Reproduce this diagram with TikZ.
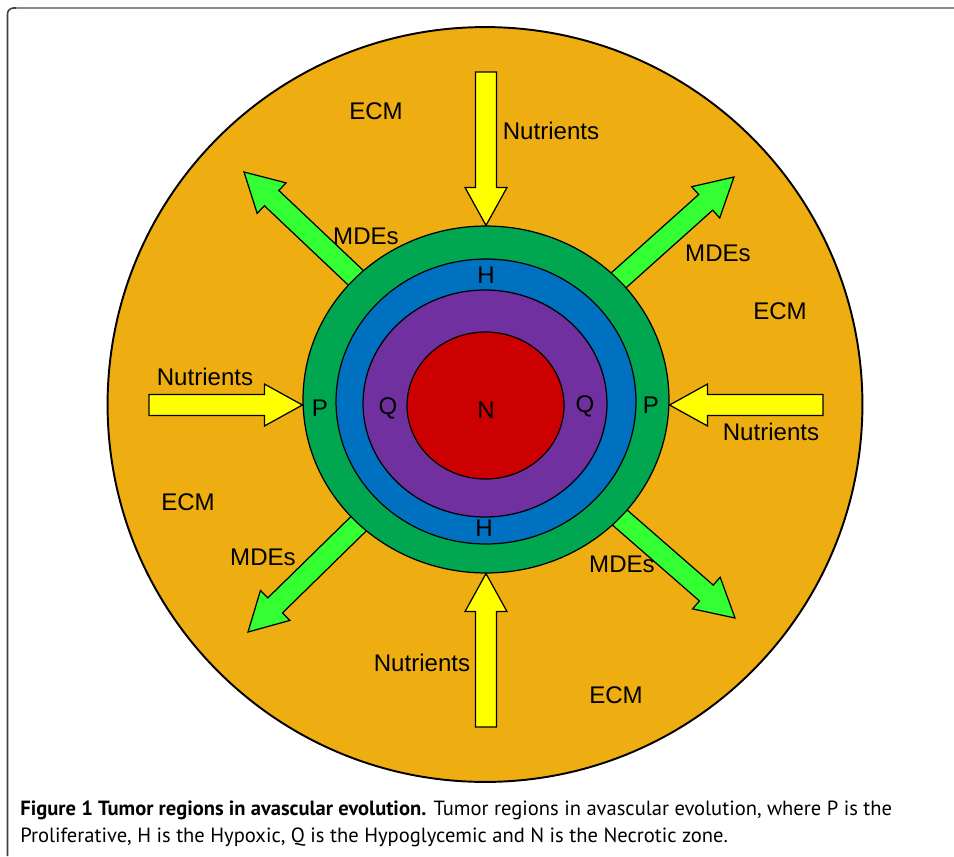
\documentclass[tikz,border=0pt]{standalone}
\usepackage{fontspec}
\setmainfont{Liberation Sans}
\newfontfamily\capfont{PT Sans}
\usetikzlibrary{shapes.geometric, calc, positioning}
\definecolor{ecmorange}{RGB}{238, 174, 17}
\definecolor{prolifgreen}{RGB}{0, 166, 80}
\definecolor{hypoxblue}{RGB}{0, 112, 192}
\definecolor{quiespurple}{RGB}{112, 48, 160}
\definecolor{necred}{RGB}{204, 0, 0}
\definecolor{mdegreen}{RGB}{51, 255, 51}
\definecolor{nutyellow}{RGB}{255, 255, 0}

% block arrow: #1 fill, #2 tail, #3 tip
\newcommand{\fatarrow}[3]{%
    \coordinate (hb) at ($(#3)!0.76cm!(#2)$);
    \filldraw[fill=#1, draw=black, line width=0.7pt, line join=miter]
        ($(#2)!0.21cm!90:(#3)$) -- ($(hb)!0.21cm!90:(#3)$) -- ($(hb)!0.42cm!90:(#3)$) -- (#3)
        -- ($(hb)!0.42cm!-90:(#3)$) -- ($(hb)!0.21cm!-90:(#3)$) -- ($(#2)!0.21cm!-90:(#3)$) -- cycle;
}

\begin{document}
\begin{tikzpicture}[x=0.02cm, y=-0.02cm,
        zone/.style={ellipse, draw, line width=0.7pt, inner sep=0pt},
        lbl/.style={font=\fontsize{13.7}{16}\selectfont, inner sep=0pt},
        caption/.style={font=\capfont\fontsize{11.7}{14}\selectfont, inner sep=0pt, anchor=base west}
    ]
    \useasboundingbox (0,0) rectangle (954,856);

    % frame
    \draw[gray!90, line width=1.1pt] (13,8) -- (954,8);
    \draw[black!75, line width=0.9pt, rounded corners=0.12cm] (7.5,856) -- (7.5,8) -- (16,8);

    % extracellular matrix
    \node[circle, draw, fill=ecmorange, line width=1.1pt, minimum size=15.1cm, inner sep=0pt] (ecm) at (485,404.5) {};

    % MDEs leaving the tumor
    \coordinate (core) at (485,400);
    \coordinate (mtl) at (244,172);
    \coordinate (mtr) at (734,177);
    \coordinate (mbr) at (735,618);
    \coordinate (mbl) at (248,632);
    \fatarrow{mdegreen}{core}{mtl}
    \fatarrow{mdegreen}{core}{mtr}
    \fatarrow{mdegreen}{core}{mbr}
    \fatarrow{mdegreen}{core}{mbl}

    % tumor zones
    \node[zone, fill=prolifgreen, minimum width=7.32cm, minimum height=6.94cm] (prolif) at (486,399.5) {};
    \node[zone, fill=hypoxblue, minimum width=6.0cm, minimum height=5.7cm] (hypox) at (486,401.5) {};
    \node[zone, fill=quiespurple, minimum width=4.88cm, minimum height=4.54cm] (quies) at (485,403.5) {};
    \node[zone, fill=necred, minimum width=3.14cm, minimum height=2.94cm] (necro) at (485.5,405.5) {};

    % nutrients coming in
    \coordinate (nt) at (486,72);
    \coordinate (nb) at (486,727);
    \coordinate (nl) at (149,405);
    \coordinate (nr) at (823,405);
    \coordinate (lt) at (prolif.west |- nl);
    \coordinate (rt) at (prolif.east |- nr);
    \fatarrow{nutyellow}{nt}{prolif.north}
    \fatarrow{nutyellow}{nb}{prolif.south}
    \fatarrow{nutyellow}{nl}{lt}
    \fatarrow{nutyellow}{nr}{rt}

    % labels
    \node[lbl] (ecm1) at (376,111) {ECM};
    \node[lbl] (ecm2) at (780,311) {ECM};
    \node[lbl] (ecm3) at (188,502) {ECM};
    \node[lbl] (ecm4) at (616,695) {ECM};
    \node[lbl] (nut1) at (551,131) {Nutrients};
    \node[lbl] (nut2) at (205,377) {Nutrients};
    \node[lbl] (nut3) at (771,432) {Nutrients};
    \node[lbl] (nut4) at (422,663) {Nutrients};
    \node[lbl] (mde1) at (366,236) {MDEs};
    \node[lbl] (mde2) at (718,253) {MDEs};
    \node[lbl] (mde3) at (263,557) {MDEs};
    \node[lbl] (mde4) at (622,564) {MDEs};
    \node[lbl] (h1) at (486,275) {H};
    \node[lbl] (h2) at (484,528) {H};
    \node[lbl] (p1) at (320,408) {P};
    \node[lbl] (p2) at (651,405) {P};
    \node[lbl] (q1) at (388,408) {Q};
    \node[lbl] (q2) at (585,406) {Q};
    \node[lbl] (n1) at (486,410) {N};

    % caption
    \node[caption] (cap1) at (20,815) {\textbf{Figure 1 Tumor regions in avascular evolution.} Tumor regions in avascular evolution, where P is the};
    \node[caption] (cap2) at (20,842) {Proliferative, H is the Hypoxic, Q is the Hypoglycemic and N is the Necrotic zone.};
\end{tikzpicture}
\end{document}
